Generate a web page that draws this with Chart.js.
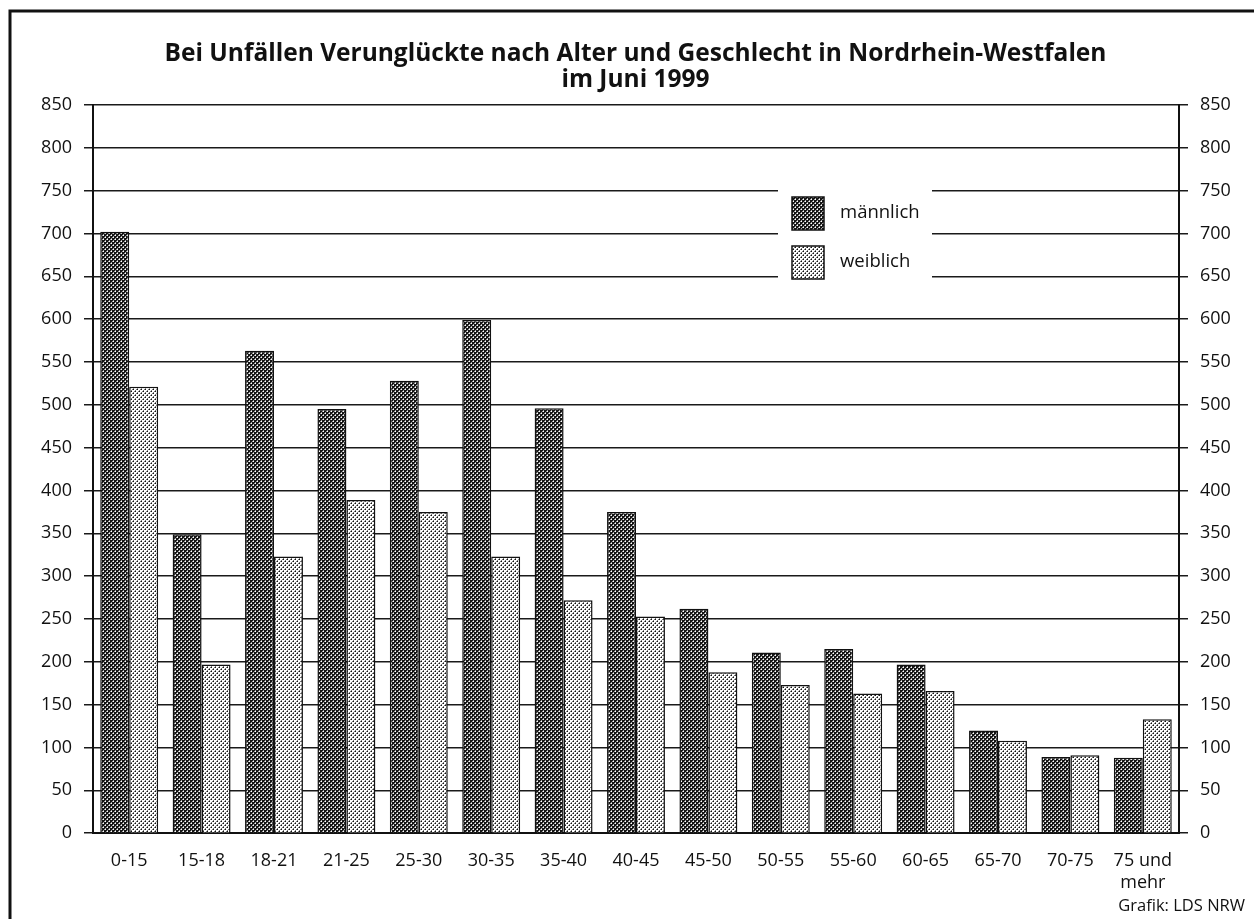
<!DOCTYPE html>
<html>
<head>
<meta charset="utf-8">
<script src="https://cdn.jsdelivr.net/npm/chart.js@4.4.1/dist/chart.umd.min.js"></script>
<style>
  html, body { margin: 0; padding: 0; background: #fff; }
  canvas { display: block; }
</style>
</head>
<body>
<canvas id="chart" width="1254" height="919"></canvas>
<script>
const ageGroups = ["0-15", "15-18", "18-21", "21-25", "25-30", "30-35", "35-40", "40-45", "45-50", "50-55", "55-60", "60-65", "65-70", "70-75", ["75 und", "mehr"]];
const maleValues = [702, 349, 563, 495, 528, 599, 496, 375, 262, 211, 215, 197, 120, 89, 88];
const femaleValues = [521, 197, 323, 389, 375, 323, 272, 253, 188, 173, 163, 166, 108, 91, 133];
const titleLines = ["Bei Unfällen Verunglückte nach Alter und Geschlecht in Nordrhein-Westfalen", "im Juni 1999"];
const sourceText = "Grafik: LDS NRW";

const FONT = "'Open Sans', 'DejaVu Sans', sans-serif";

// dotted raster fills like the print original
function makePattern(base, dot, half) {
    const tile = document.createElement("canvas");
    tile.width = 4;
    tile.height = 4;
    const c = tile.getContext("2d");
    c.fillStyle = base;
    c.fillRect(0, 0, 4, 4);
    c.fillStyle = half;
    [[0, 1], [1, 0], [2, 3], [3, 2]].forEach(p => c.fillRect(p[0], p[1], 1, 1));
    c.fillStyle = dot;
    [[1, 1], [3, 3]].forEach(p => c.fillRect(p[0], p[1], 1, 1));
    return document.getElementById("chart").getContext("2d").createPattern(tile, "repeat");
}
const malePattern = makePattern("#151515", "#ffffff", "#a0a0a0");
const femalePattern = makePattern("#ffffff", "#151515", "#787878");

const framePlugin = {
    id: "frame",
    beforeDraw(chart) {
        const ctx = chart.ctx;
        ctx.save();
        ctx.fillStyle = "#fff";
        ctx.fillRect(0, 0, chart.width, chart.height);
        ctx.restore();
    },
    afterDraw(chart) {
        const ctx = chart.ctx;
        ctx.save();
        ctx.strokeStyle = "#111";
        ctx.lineWidth = 3;
        ctx.beginPath();
        ctx.moveTo(chart.width, 11);
        ctx.lineTo(10, 11);
        ctx.lineTo(10, chart.height);
        ctx.stroke();
        ctx.restore();
    }
};

// legend box sitting on top of the grid lines
const boxLegend = {
    id: "boxLegend",
    afterDraw(chart) {
        const ctx = chart.ctx;
        ctx.save();
        ctx.fillStyle = "#fff";
        ctx.fillRect(778, 184, 154, 99);
        chart.data.datasets.forEach((ds, i) => {
            const y = 197 + i * 49;
            ctx.fillStyle = ds.backgroundColor;
            ctx.fillRect(792, y, 32, 33);
            ctx.strokeStyle = "#111";
            ctx.lineWidth = 1.5;
            ctx.strokeRect(792, y, 32, 33);
            ctx.fillStyle = "#111";
            ctx.font = "18.5px " + FONT;
            ctx.textBaseline = "middle";
            ctx.fillText(ds.label, 840, y + 16);
        });
        ctx.restore();
    }
};

new Chart(document.getElementById("chart"), {
    type: "bar",
    data: {
        labels: ageGroups,
        datasets: [
            { label: "männlich", data: maleValues, backgroundColor: malePattern, borderColor: "#111", borderWidth: 1.5 },
            { label: "weiblich", data: femaleValues, backgroundColor: femalePattern, borderColor: "#111", borderWidth: 1.5 }
        ]
    },
    options: {
        responsive: false,
        devicePixelRatio: 1,
        animation: false,
        layout: { padding: { left: 26, right: 9, top: 0, bottom: 3 } },
        datasets: { bar: { categoryPercentage: 0.8, barPercentage: 1.0 } },
        plugins: {
            legend: { display: false },
            tooltip: { enabled: false },
            title: {
                display: true,
                text: titleLines,
                color: "#111",
                font: { family: FONT, size: 24.5, weight: "bold", lineHeight: 1.061 },
                padding: { top: 41.5, bottom: 11.5 }
            },
            subtitle: {
                display: true,
                position: "bottom",
                align: "end",
                text: sourceText,
                color: "#111",
                font: { family: FONT, size: 16.5, lineHeight: 1.2 },
                padding: { top: 0, bottom: 0 }
            }
        },
        scales: {
            x: {
                grid: { display: false },
                border: { display: true, color: "#111", width: 2 },
                ticks: { color: "#111", padding: 9, maxRotation: 0, autoSkip: false, font: { family: FONT, size: 18, lineHeight: 1.2 } },
                afterFit(scale) { scale.height = 63; }
            },
            y: {
                min: 0,
                max: 850,
                ticks: { stepSize: 50, color: "#111", padding: 12, font: { family: FONT, size: 18 } },
                grid: { color: "#1a1a1a", lineWidth: 1.5, tickLength: 9, drawTicks: true },
                border: { display: true, color: "#111", width: 2 },
                afterFit(scale) { scale.width = 67; }
            },
            y2: {
                position: "right",
                min: 0,
                max: 850,
                ticks: { stepSize: 50, color: "#111", padding: 12, font: { family: FONT, size: 18 } },
                grid: { drawOnChartArea: false, color: "#1a1a1a", lineWidth: 1.5, tickLength: 9 },
                border: { display: true, color: "#111", width: 2 },
                afterFit(scale) { scale.width = 66; }
            }
        }
    },
    plugins: [framePlugin, boxLegend]
});
</script>
</body>
</html>
